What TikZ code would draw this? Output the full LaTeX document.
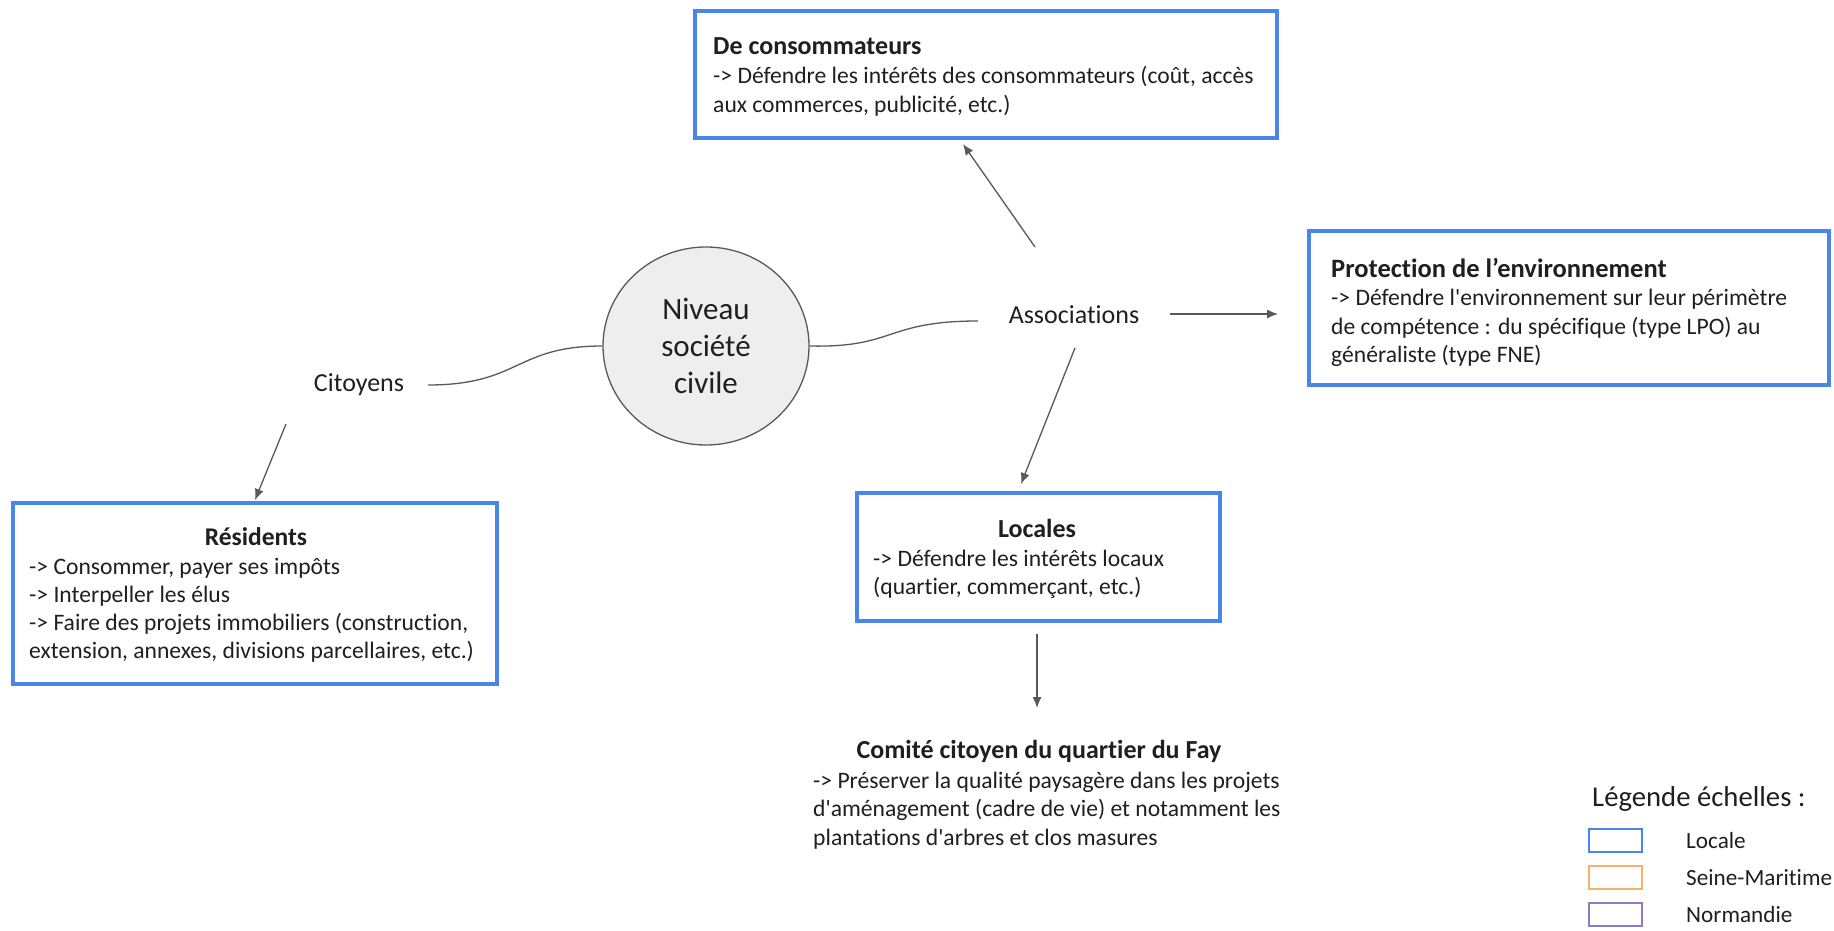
\documentclass[tikz,border=0pt]{standalone}
\usepackage{fontspec}
\setmainfont[Ligatures={TeXOff,NoCommon}]{Carlito}
\usetikzlibrary{arrows.meta,shapes.geometric}
\definecolor{gblue}{HTML}{4A86E8}
\definecolor{gorange}{HTML}{F6B26B}
\definecolor{gpurple}{HTML}{8E7CC3}
\definecolor{lgray}{HTML}{595959}
\definecolor{cfill}{HTML}{EEEEEE}
\definecolor{txtc}{HTML}{1F1F1F}
\begin{document}
\begin{tikzpicture}[x=1pt,y=-1pt,
  scalebox/.style={draw=#1, line width=3.1pt, rectangle, inner sep=0pt},
  bodyline/.style={inner sep=0pt, anchor=base west, text=txtc, font=\fontsize{#1}{28}\selectfont},
  bodyline/.default=23.6,
  titleline/.style={inner sep=0pt, anchor=base, text=txtc, font=\fontsize{#1}{28}\selectfont\bfseries},
  titleline/.default=26,
  titleleft/.style={titleline=#1, anchor=base west},
  titleleft/.default=26,
  label/.style={inner sep=0pt, text=txtc, font=\fontsize{26}{30}\selectfont},
  arr/.style={draw=lgray, line width=1.3pt, -{Latex[length=11pt,width=9pt]}},
  wave/.style={draw=lgray, line width=1.3pt}
]
\useasboundingbox (0,0) rectangle (1834,931);
\fill[white] (0,0) rectangle (1834,931);

% boxes
\draw[scalebox=gblue] (695,11) rectangle (1277,138);
\node[titleleft] (t1) at (713,55) {De consommateurs};
\node[bodyline] (b1a) at (713,84) {-> Défendre les intérêts des consommateurs (coût, accès};
\node[bodyline] (b1b) at (713,113) {aux commerces, publicité, etc.)};

\draw[scalebox=gblue] (1309,231) rectangle (1829,385);
\node[titleleft=26.5] (t2) at (1331,277) {Protection de l’environnement};
\node[bodyline] (b2a) at (1331,305.5) {-> Défendre l'environnement sur leur périmètre};
\node[bodyline] (b2b) at (1331,334) {de compétence : du spécifique (type LPO) au};
\node[bodyline] (b2c) at (1331,362.5) {généraliste (type FNE)};

\draw[scalebox=gblue] (13,503) rectangle (497,684);
\node[titleline=25.5] (t3) at (256,545) {Résidents};
\node[bodyline] (b3a) at (29,574) {-> Consommer, payer ses impôts};
\node[bodyline] (b3b) at (29,602) {-> Interpeller les élus};
\node[bodyline] (b3c) at (29,630) {-> Faire des projets immobiliers (construction,};
\node[bodyline] (b3d) at (29,658) {extension, annexes, divisions parcellaires, etc.)};

\draw[scalebox=gblue] (857,493) rectangle (1220,621);
\node[titleline] (t4) at (1037,537) {Locales};
\node[bodyline] (b4a) at (873,566) {-> Défendre les intérêts locaux};
\node[bodyline] (b4b) at (873,594) {(quartier, commerçant, etc.)};

\node[titleline] (t5) at (1039,758) {Comité citoyen du quartier du Fay};
\node[bodyline] (b5a) at (813,788) {-> Préserver la qualité paysagère dans les projets};
\node[bodyline] (b5b) at (813,816.5) {d'aménagement (cadre de vie) et notamment les};
\node[bodyline] (b5c) at (813,845) {plantations d'arbres et clos masures};

% centre
\node[ellipse, draw=lgray, line width=1.3pt, fill=cfill, minimum width=206pt, minimum height=198pt, inner sep=0pt,
      align=center, text=txtc, font=\fontsize{31}{37}\selectfont] (civ) at (706,346)
      {Niveau\\société\\civile};

\node[label] (cit) at (359,385) {Citoyens};
\node[label] (ass) at (1074,315) {Associations};

% connectors
\coordinate (citE) at (428,385);
\coordinate (assW) at (978,321);
\coordinate (assN) at (1035,247);
\coordinate (consS) at (963,144);
\coordinate (assE) at (1170,314);
\coordinate (envW) at (1278,314);
\coordinate (assS) at (1075,348);
\coordinate (locN) at (1021,484);
\coordinate (citS) at (286,424);
\coordinate (resN) at (255,500);
\coordinate (locS) at (1037,634);
\coordinate (comN) at (1037,708);

\draw[wave] (citE) .. controls (520,385) and (515,346) .. (civ.west);
\draw[wave] (civ.east) .. controls (895,348) and (885,321) .. (assW);
\draw[arr] (assN) -- (consS);
\draw[arr] (assE) -- (envW);
\draw[arr] (assS) -- (locN);
\draw[arr] (citS) -- (resN);
\draw[arr] (locS) -- (comN);

% legend
\node[inner sep=0pt, anchor=base west, text=txtc, font=\fontsize{28.7}{32}\selectfont] (leg) at (1592,806) {Légende échelles :};
\draw[scalebox=gblue, line width=2.8pt] (1589,829) rectangle (1642,852);
\draw[scalebox=gorange, line width=2.8pt] (1589,866) rectangle (1642,889);
\draw[scalebox=gpurple, line width=2.8pt] (1589,903) rectangle (1642,926);
\node[bodyline=23.2] (l1) at (1686,848) {Locale};
\node[bodyline=23.2] (l2) at (1686,885) {Seine-Maritime};
\node[bodyline=23.2] (l3) at (1686,922) {Normandie};
\end{tikzpicture}
\end{document}
